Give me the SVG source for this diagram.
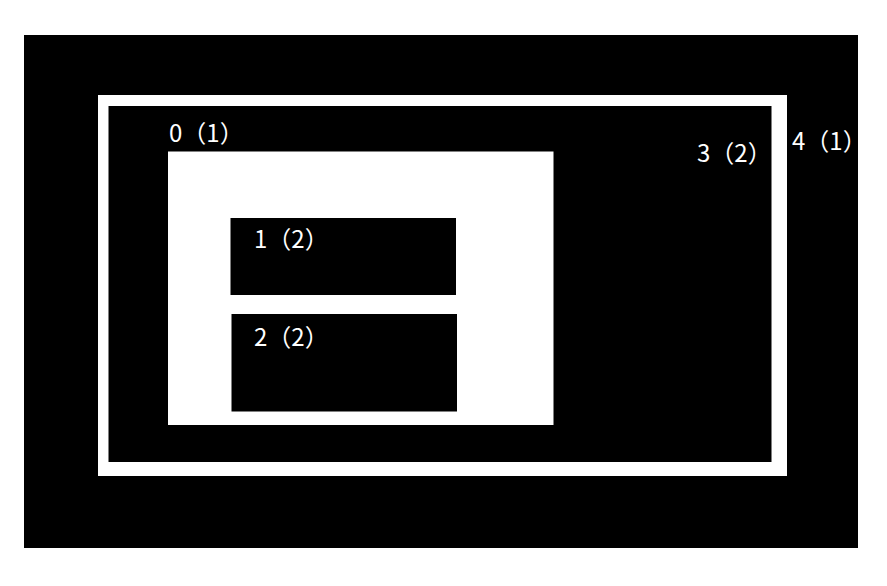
<svg xmlns="http://www.w3.org/2000/svg" width="887" height="586" viewBox="0 0 887 586">
<style>
.dark{fill:#000;}
.light{fill:#fff;}
.lbl{font-family:"Noto Sans CJK SC","Noto Sans",sans-serif;font-size:24px;fill:#fff;}
</style>
<rect x="0" y="0" width="887" height="586" fill="#fff"/>
<g id="node4">
<rect class="dark" x="24" y="35" width="834" height="513"/>
<text class="lbl" x="792" y="150">4（1）</text>
</g>
<g id="node3">
<rect class="light" x="98" y="95" width="689" height="381"/>
<rect class="dark" x="108.5" y="106" width="663" height="356"/>
<text class="lbl" x="697" y="162">3（2）</text>
</g>
<g id="node0">
<rect class="light" x="168" y="151.5" width="385.5" height="273.5"/>
<text class="lbl" x="169" y="142">0（1）</text>
</g>
<g id="node1">
<rect class="dark" x="230.5" y="218" width="225.5" height="77"/>
<text class="lbl" x="254" y="248">1（2）</text>
</g>
<g id="node2">
<rect class="dark" x="231.5" y="314" width="225.5" height="97.5"/>
<text class="lbl" x="254" y="346">2（2）</text>
</g>
<g id="connectors"></g>
</svg>
